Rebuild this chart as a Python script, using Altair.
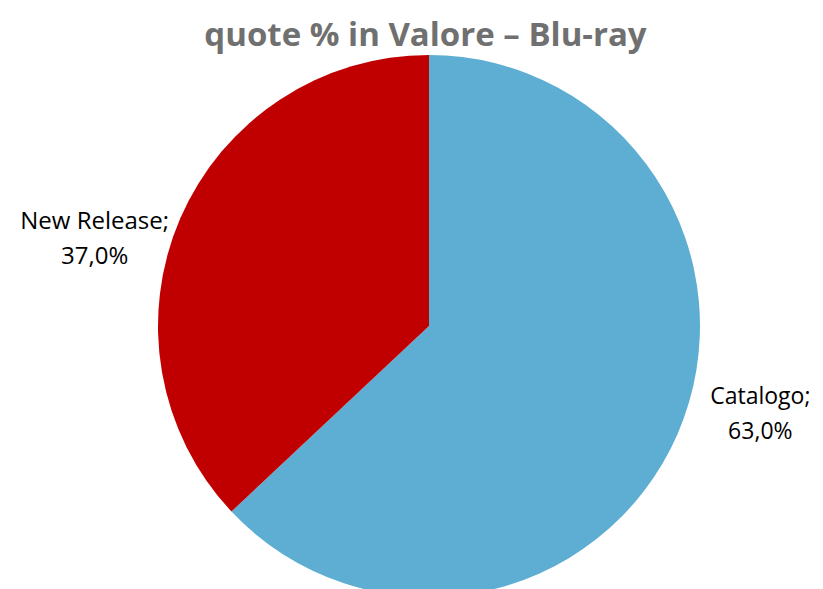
import altair as alt
import pandas as pd

categories = ["Catalogo", "New Release"]
shares = [63.0, 37.0]
colors = ["#5EAED3", "#C00000"]
title_text = "quote % in Valore – Blu-ray"

labels = [f"{c};\n{v:.1f}%".replace(".", ",") for c, v in zip(categories, shares)]
df = pd.DataFrame({"cat": categories, "val": shares, "order": [0, 1], "label": labels})

CX, CY = 421, 268

pie = alt.Chart(df).mark_arc(outerRadius=271, strokeWidth=0).encode(
    theta=alt.Theta("val:Q", stack=True),
    order=alt.Order("order:Q"),
    color=alt.Color("cat:N", scale=alt.Scale(domain=categories, range=colors), legend=None),
    x=alt.value(CX), y=alt.value(CY),
)

lab_base = alt.Chart(df).transform_window(
    cum="sum(val)", sort=[alt.SortField("order")]
).transform_joinaggregate(total="sum(val)").transform_calculate(
    mid="(datum.cum - datum.val / 2) / datum.total"
)

def label_layer(cat, dx, dy, size):
    return lab_base.transform_filter(alt.datum.cat == cat).mark_text(
        radius=300, dx=dx, dy=dy, lineBreak="\n", fontSize=size,
        font="Open Sans", color="black", align="center", baseline="middle", lineHeight=35,
    ).encode(
        theta=alt.Theta("mid:Q", scale=alt.Scale(domain=[0, 1]), stack=None),
        text="label:N", x=alt.value(CX), y=alt.value(CY),
    )

chart = alt.layer(
    pie,
    label_layer("Catalogo", 56, -48, 23),
    label_layer("New Release", -59, 15, 24),
).resolve_scale(theta="independent").properties(
    width=807, height=531,
    padding={"left": 0, "top": 50, "right": 0, "bottom": 0},
    autosize="none",
    title=alt.Title(title_text, fontSize=33, font="Open Sans", fontWeight="bold",
                    color="#707070", anchor="middle", offset=2, dx=14),
).configure_view(stroke=None)

chart.save("out.html", embed_options={"renderer": "svg", "actions": False})
